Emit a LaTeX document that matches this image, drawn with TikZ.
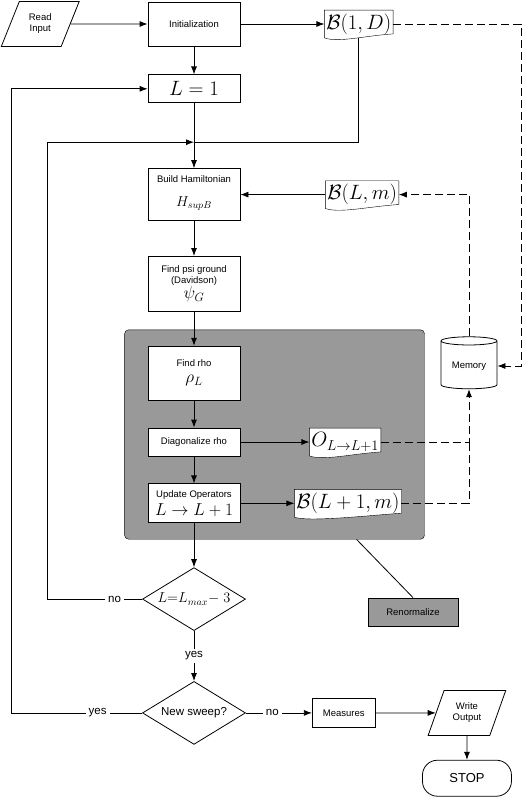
\documentclass[tikz,border=0pt]{standalone}
\usepackage{amsmath}
\usepackage{amssymb}
\usepackage[no-math]{fontspec}
\setmainfont{Liberation Sans}
\usepackage{tikz}
\usetikzlibrary{positioning, shapes.geometric, shapes.misc, arrows, arrows.meta, fit, backgrounds}

\tikzset{
  stepbox/.style={draw, fill=white, align=center, minimum width=92pt, inner sep=1.5pt, font=\fontsize{9.5}{11}\selectfont},
  docbox/.style={inner xsep=1.5pt, inner ysep=2pt, minimum height=27pt, font=\fontsize{20}{22}\selectfont},
  docline/.style={draw, fill=white},
  iobox/.style={trapezium, trapezium left angle=64, trapezium right angle=116, trapezium stretches=true, draw, align=center, minimum width=78pt, minimum height=45pt, inner sep=1pt, font=\fontsize{9.5}{11}\selectfont},
  decision/.style={diamond, draw, fill=white, aspect=1.63, inner sep=0pt, minimum width=103pt, minimum height=63pt, font=\fontsize{11.5}{13}\selectfont},
  answer/.style={fill=white, inner sep=3pt, font=\fontsize{11.5}{13}\selectfont},
  memo/.style={cylinder, shape border rotate=90, aspect=0.2, draw, fill=white, minimum width=56pt, minimum height=52pt, font=\fontsize{9.5}{11}\selectfont},
  stopbox/.style={draw, rounded corners=15pt, minimum width=89pt, minimum height=36pt, font=\fontsize{13}{15}\selectfont},
  back/.style={dashed, dash pattern=on 8pt off 4pt}
}

\begin{document}
\begin{tikzpicture}[x=1pt, y=1pt, >={Latex[length=8pt,width=6pt]}, line width=0.8pt]
    \useasboundingbox (0,0) rectangle (528,-800);

    \node[stepbox, minimum height=44pt] (init) at (194,-24) {Initialization};
    \node[iobox, left = 77pt of init] (readin) {Read\\Input};
    \node[docbox, right = 84pt of init] (BoneD) {$\mathcal{B}(1,D)$};
    \node[stepbox, minimum height=28pt, font=\fontsize{20}{22}\selectfont, below = 28pt of init] (Lone) {$L=1$};
    \coordinate[below = 39pt of Lone] (join);
    \coordinate (rail) at (521,0);
    \node[stepbox, minimum height=52pt, below = 65pt of Lone] (build) {Build Hamiltonian\\[13pt]{\Large $H_{supB}$}\\[-4pt]};
    \node[docbox, right = 85pt of build] (BLm) {$\mathcal{B}(L,m)$};
    \node[stepbox, minimum height=55pt, below = 35pt of build] (psi) {Find psi ground\\(Davidson)\\{\LARGE $\psi_G$}};
    \node[stepbox, minimum height=54pt, below = 34pt of psi] (rho) {Find rho\\[5pt]{\LARGE $\rho_L$}};
    \node[stepbox, minimum height=28pt, below = 27pt of rho] (diag) {Diagonalize rho};
    \node[stepbox, minimum height=39pt, below = 27pt of diag] (update) {Update Operators\\[3pt]{\fontsize{18}{20}\selectfont $L\rightarrow L+1$}};
    \node[docbox, right = 69pt of diag] (opr) {$O_{L\rightarrow L+1}$};
    \node[docbox, right = 54pt of update] (BLpm) {$\mathcal{B}(L+1,m)$};
    \node[decision, font=\fontsize{14.5}{16}\selectfont, below = 44pt of update] (lmax) {$L{=}L_{max}{-}\ 3$};
    \node[decision, below = 50pt of lmax] (sweep) {New sweep?};
    \node[stepbox, minimum width=63pt, minimum height=29pt, right = 66pt of sweep] (measures) {Measures};
    \node[iobox, right = 60pt of measures] (writeout) {Write\\Output};
    \node[stopbox, below = 24pt of writeout] (stop) {STOP};
    \node[memo] (memory) at (469,-366) {Memory};
    \node[stepbox, fill=black!40, minimum width=90pt, minimum height=28pt] (renorm) at (413,-612) {Renormalize};

    \begin{scope}[on background layer]
        \node[draw, fill=black!40, rounded corners=4pt, inner xsep=23pt, inner ysep=16pt, fit=(rho)(update)(BLpm)] (box) {};
        \foreach \d in {BoneD, BLm, opr, BLpm}
            \draw[docline] (\d.north west) -- (\d.north east) -- ([yshift=4pt]\d.south east)
                .. controls +(-30pt,-2pt) and +(14pt,-5pt) .. (\d.south west) -- cycle;
    \end{scope}

    \draw[->] (readin) -- (init);
    \draw[->] (init) -- (BoneD);
    \draw[->] (init) -- (Lone);
    \draw[->] (Lone) -- (build);
    \draw (BoneD.south) |- (join);
    \draw[->] (BLm) -- (build);
    \draw[->] (build) -- (psi);
    \draw[->] (psi) -- (rho);
    \draw[->] (rho) -- (diag);
    \draw[->] (diag) -- (update);
    \draw[->] (diag) -- (opr);
    \draw[->] (update) -- (BLpm);
    \draw[->] (update) -- (lmax);
    \draw ([xshift=82pt]box.south) -- (renorm.north);

    \draw[->] (lmax.west) -- node[answer, pos=0.29] {no} ++(-95pt,0) |- (join);
    \draw[->] (lmax) -- node[answer] {yes} (sweep);
    \draw[->] (sweep.west) -- node[answer, pos=0.34] {yes} ++(-131pt,0) |- (Lone.west);
    \draw[->] (sweep) -- node[answer, pos=0.4] {no} (measures);
    \draw[->] (measures) -- (writeout);
    \draw[->] (writeout) -- (stop);

    \draw[back, ->] (BoneD.east) -- (BoneD.east -| rail) |- (memory.east);
    \draw[back, ->] (memory.north) |- (BLm.east);
    \draw[back, ->] (opr.east) -| (memory.south);
    \draw[back] (BLpm.east) -| (opr.east -| memory.south);
\end{tikzpicture}
\end{document}
